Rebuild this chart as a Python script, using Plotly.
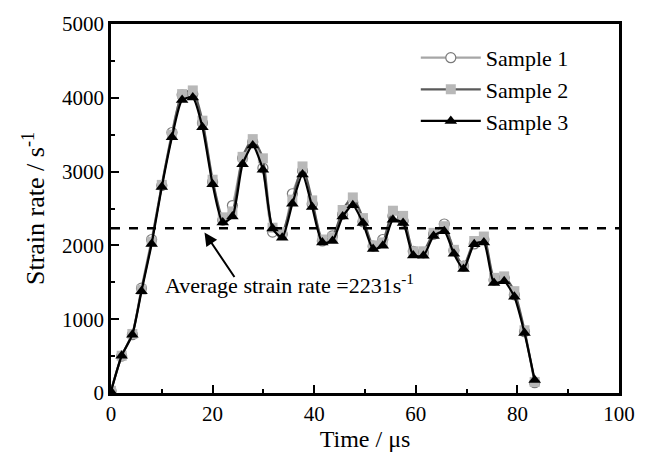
import plotly.graph_objects as go

time_us = [0, 2.1, 4.2, 6.0, 8.0, 10.0, 12.0, 14.0, 16.1, 18.0, 20.0, 22.0, 23.9, 25.9, 27.9,
           29.9, 31.8, 33.7, 35.7, 37.7, 39.6, 41.6, 43.6, 45.6, 47.6, 49.6, 51.6, 53.5,
           55.5, 57.5, 59.5, 61.5, 63.5, 65.6, 67.5, 69.4, 71.5, 73.4, 75.4, 77.4, 79.4,
           81.4, 83.4]

sample1 = [30, 500, 790, 1420, 2080, 2810, 3530, 4040, 4050, 3660, 2860, 2340, 2540, 3180, 3400,
           3050, 2180, 2150, 2700, 3010, 2560, 2060, 2130, 2420, 2580, 2320, 1990, 2080,
           2400, 2330, 1920, 1900, 2150, 2290, 1930, 1720, 2020, 2080, 1530, 1560, 1330,
           830, 140]

sample2 = [30, 505, 800, 1400, 2050, 2820, 3500, 4050, 4100, 3690, 2890, 2380, 2460, 3200, 3440,
           3180, 2240, 2180, 2620, 3070, 2610, 2080, 2110, 2480, 2650, 2370, 2000, 2040,
           2470, 2400, 1920, 1920, 2170, 2260, 1940, 1720, 2060, 2120, 1560, 1580, 1380,
           850, 150]

sample3 = [20, 505, 790, 1380, 2020, 2790, 3465, 3970, 4005, 3600, 2830, 2310, 2390, 3100, 3355,
           3026, 2230, 2105, 2566, 2960, 2522, 2040, 2061, 2390, 2544, 2303, 1952, 1996,
           2346, 2303, 1864, 1860, 2127, 2193, 1886, 1680, 2017, 2039, 1491, 1513, 1303,
           812, 175]

average_rate = 2231
x_range = [0, 100]
y_range = [0, 5000]

FONT = "Liberation Serif, DejaVu Serif, serif"

fig = go.Figure()

fig.add_trace(go.Scatter(
    x=time_us, y=sample1, name="Sample 1", mode="lines+markers",
    line=dict(color="#a6a6a6", width=2.2, shape="spline", smoothing=0.6),
    marker=dict(symbol="circle", size=10, color="white", line=dict(color="#7a7a7a", width=1.2)),
))
fig.add_trace(go.Scatter(
    x=time_us, y=sample2, name="Sample 2", mode="lines+markers",
    line=dict(color="#5a5a5a", width=2.2, shape="spline", smoothing=0.6),
    marker=dict(symbol="square", size=10, color="#b8b8b8", line=dict(width=0)),
))
fig.add_trace(go.Scatter(
    x=time_us, y=sample3, name="Sample 3", mode="lines+markers",
    line=dict(color="black", width=2.2, shape="spline", smoothing=0.6),
    marker=dict(symbol="triangle-up", size=11, color="black", line=dict(width=0)),
))

fig.add_trace(go.Scatter(
    x=x_range, y=[average_rate, average_rate], mode="lines", showlegend=False,
    line=dict(color="black", width=2.5, dash="dash"), hoverinfo="skip",
))

fig.add_annotation(
    x=18.4, y=2175, ax=31, ay=46,
    xref="x", yref="y", showarrow=True, arrowhead=2, arrowsize=1.3, arrowwidth=2,
    arrowcolor="black", text="", standoff=0,
)
fig.add_annotation(
    x=10.2, y=1480, xref="x", yref="y", xanchor="left", yanchor="middle",
    text="Average strain rate =2231s<sup>-1</sup>", showarrow=False,
    font=dict(family=FONT, size=22, color="black"),
)

axis_common = dict(
    showline=True, linecolor="black", linewidth=2.5, mirror=True,
    ticks="inside", ticklen=8, tickwidth=2, tickcolor="black",
    showgrid=False, zeroline=False,
    tickfont=dict(family=FONT, size=21, color="black"),
)

fig.update_xaxes(
    range=x_range, dtick=20, tick0=0,
    title=dict(text="Time / μs", font=dict(family=FONT, size=24, color="black"), standoff=4),
    minor=dict(dtick=10, ticks="inside", ticklen=4, tickwidth=2, tickcolor="black"),
    **axis_common,
)
fig.update_yaxes(
    range=y_range, dtick=1000, tick0=0,
    title=dict(text="Strain rate / s<sup>-1</sup>", font=dict(family=FONT, size=26, color="black"), standoff=10),
    minor=dict(dtick=500, ticks="inside", ticklen=4, tickwidth=2, tickcolor="black"),
    **axis_common,
)

fig.update_layout(
    width=647, height=459,
    margin=dict(l=111, r=26, t=15, b=64),
    plot_bgcolor="white", paper_bgcolor="white",
    font=dict(family=FONT, color="black"),
    showlegend=True,
    legend=dict(
        x=0.6, y=0.965, xanchor="left", yanchor="top",
        bgcolor="rgba(0,0,0,0)", borderwidth=0,
        font=dict(family=FONT, size=22, color="black"),
        itemwidth=60, tracegroupgap=0,
    ),
)

fig.write_html("out.html")
